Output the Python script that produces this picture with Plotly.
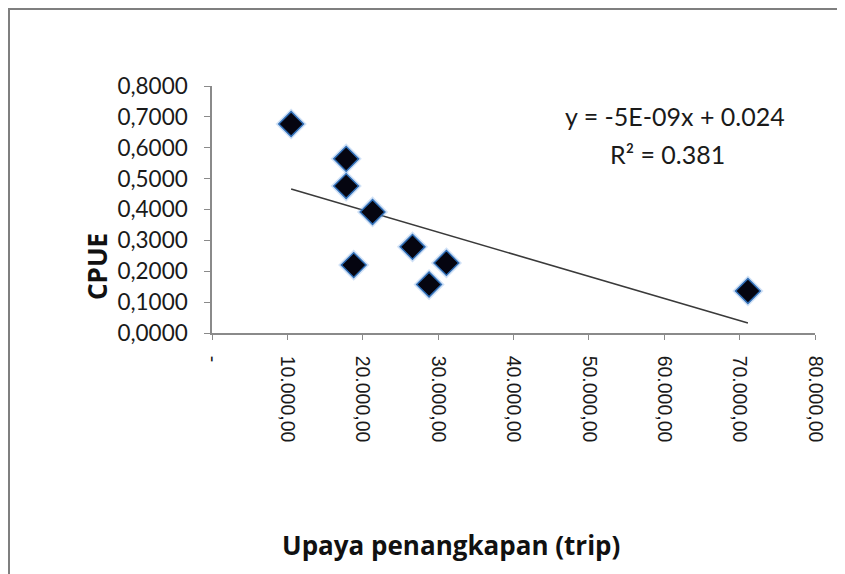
import numpy as np
import plotly.graph_objects as go

# Data
effort = [10500, 17800, 17800, 21300, 18800, 26600, 28800, 31100, 71100]
cpue = [0.677, 0.564, 0.476, 0.392, 0.220, 0.279, 0.157, 0.227, 0.136]

x_tickvals = [0, 10000, 20000, 30000, 40000, 50000, 60000, 70000, 80000]
x_ticktext = ["-", "10.000,00", "20.000,00", "30.000,00", "40.000,00",
              "50.000,00", "60.000,00", "70.000,00", "80.000,00"]
y_tickvals = [0.0, 0.1, 0.2, 0.3, 0.4, 0.5, 0.6, 0.7, 0.8]

eq_text = "y = -5E-09x + 0.024"
r2_text = "R² = 0.381"

# Linear trendline (least squares) over the data range
slope, intercept = np.polyfit(effort, cpue, 1)
tx = [min(effort), max(effort)]
ty = [slope * v + intercept for v in tx]

W, H = 845, 574
OFF = 8  # page body margin
L, T = 212 - OFF, 86 - OFF
pw, ph = 603, 247
R, B = W - L - pw, H - T - ph

def px(xp):
    return (xp - OFF - L) / pw

def py(yp):
    return (H - B - (yp - OFF)) / ph

fig = go.Figure()
fig.add_trace(go.Scatter(x=tx, y=ty, mode="lines",
                         line=dict(color="#3a3a3a", width=1.6),
                         hoverinfo="skip", showlegend=False))
fig.add_trace(go.Scatter(x=effort, y=cpue, mode="markers",
                         marker=dict(symbol="diamond", size=24,
                                     color="rgba(120,170,230,0.35)",
                                     line=dict(width=0)),
                         hoverinfo="skip", showlegend=False))
fig.add_trace(go.Scatter(x=effort, y=cpue, mode="markers",
                         marker=dict(symbol="diamond", size=19, color="#050510",
                                     line=dict(color="#2f6db5", width=1.5)),
                         showlegend=False))

fig.update_layout(
    width=W, height=H,
    margin=dict(l=L, r=R, t=T, b=B, autoexpand=False),
    paper_bgcolor="white", plot_bgcolor="white",
    separators=",.",
    xaxis=dict(range=[0, 80000], tickvals=x_tickvals, ticktext=x_ticktext,
               tickangle=90, showgrid=False, zeroline=False,
               showline=True, linecolor="#8a8a8a", linewidth=1.5,
               ticks="outside", ticklen=5, tickcolor="#8a8a8a", tickwidth=1.2,
               ticklabelstandoff=12,
               tickfont=dict(family="Arial, Liberation Sans", size=19.5,
                             color="#1a1a1a")),
    yaxis=dict(range=[0, 0.8], tickvals=y_tickvals, tickformat=".4f",
               showgrid=False, zeroline=False,
               showline=True, linecolor="#8a8a8a", linewidth=1.5,
               ticks="outside", ticklen=6, tickcolor="#8a8a8a", tickwidth=1.2,
               ticklabelstandoff=12,
               tickfont=dict(family="Lato, Open Sans", size=22.5, color="#1a1a1a")),
    annotations=[
        dict(text="<b>CPUE</b>", x=px(97), y=py(267), xref="paper", yref="paper",
             xanchor="center", yanchor="middle",
             textangle=-90, showarrow=False,
             font=dict(family="Open Sans, Lato", size=26, color="#111111")),
        dict(text="<b>Upaya penangkapan (trip)</b>", x=px(451), y=py(545),
             xref="paper", yref="paper", xanchor="center", yanchor="middle",
             showarrow=False,
             font=dict(family="Open Sans, Lato", size=26, color="#111111")),
        dict(text=eq_text, x=px(675), y=py(116), xref="paper", yref="paper",
             xanchor="center", yanchor="middle", showarrow=False,
             font=dict(family="Lato, Open Sans", size=25, color="#1a1a1a")),
        dict(text=r2_text, x=px(667), y=py(154), xref="paper", yref="paper",
             xanchor="center", yanchor="middle", showarrow=False,
             font=dict(family="Lato, Open Sans", size=25, color="#1a1a1a")),
    ],
    shapes=[
        dict(type="line", xref="paper", yref="paper",
             x0=px(0), x1=px(W + 20), y0=py(8.5), y1=py(8.5),
             line=dict(color="#7f7f7f", width=3)),
        dict(type="line", xref="paper", yref="paper",
             x0=px(8.5), x1=px(8.5), y0=py(7), y1=py(H + 20),
             line=dict(color="#7f7f7f", width=3)),
    ],
)

fig.write_html("out.html")
